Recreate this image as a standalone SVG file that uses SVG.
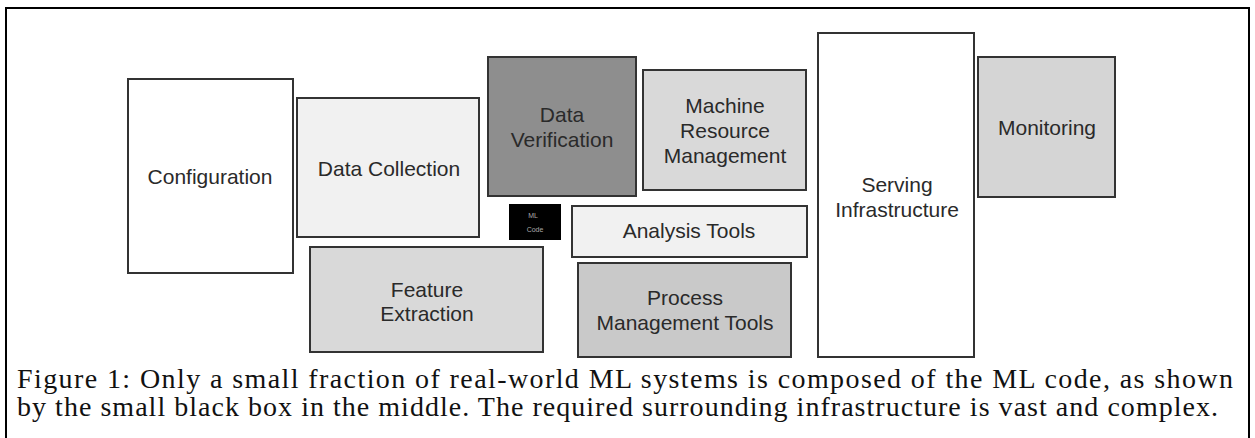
<svg xmlns="http://www.w3.org/2000/svg" width="1255" height="438" viewBox="0 0 1255 438">
<style>
.box{stroke:#333;stroke-width:2}
.lbl{font-family:"Liberation Sans",Arial,sans-serif;font-size:21px;fill:#2a2a2a;text-anchor:middle}
.cap{font-family:"Liberation Serif","Times New Roman",serif;font-size:28px;fill:#111}
</style>
<rect x="0" y="0" width="1255" height="438" fill="#fff"/>
<rect x="6" y="8" width="1243" height="450" fill="none" stroke="#000" stroke-width="2"/>
<g id="configuration"><rect class="box" x="128" y="79" width="165" height="194" fill="#fff"/><text class="lbl" x="210" y="184">Configuration</text></g>
<g id="data-collection"><rect class="box" x="297" y="98" width="182" height="139" fill="#f1f1f1"/><text class="lbl" x="389" y="176">Data Collection</text></g>
<g id="feature-extraction"><rect class="box" x="310" y="247" width="233" height="105" fill="#d9d9d9"/><text class="lbl" x="427" y="297">Feature</text><text class="lbl" x="427" y="321">Extraction</text></g>
<g id="data-verification"><rect class="box" x="488" y="57" width="148" height="139" fill="#8e8e8e"/><text class="lbl" x="562" y="122">Data</text><text class="lbl" x="562" y="147">Verification</text></g>
<g id="machine-resource-management"><rect class="box" x="643" y="70" width="163" height="120" fill="#d9d9d9"/><text class="lbl" x="725" y="113">Machine</text><text class="lbl" x="725" y="138">Resource</text><text class="lbl" x="725" y="163">Management</text></g>
<g id="ml-code"><rect x="509" y="204" width="52" height="36" fill="#000"/><text x="533" y="218" font-family="Liberation Sans,Arial,sans-serif" font-size="7" fill="#aaa" text-anchor="middle">ML</text><text x="535" y="232" font-family="Liberation Sans,Arial,sans-serif" font-size="7" fill="#aaa" text-anchor="middle">Code</text></g>
<g id="analysis-tools"><rect class="box" x="572" y="206" width="235" height="51" fill="#f1f1f1"/><text class="lbl" x="689" y="238">Analysis Tools</text></g>
<g id="process-management-tools"><rect class="box" x="578" y="263" width="213" height="94" fill="#c9c9c9"/><text class="lbl" x="685" y="305">Process</text><text class="lbl" x="685" y="330">Management Tools</text></g>
<g id="serving-infrastructure"><rect class="box" x="818" y="33" width="156" height="324" fill="#fff"/><text class="lbl" x="897" y="192">Serving</text><text class="lbl" x="897" y="217">Infrastructure</text></g>
<g id="monitoring"><rect class="box" x="978" y="57" width="137" height="140" fill="#d5d5d5"/><text class="lbl" x="1047" y="135">Monitoring</text></g>
<g id="connectors"></g>
<text class="cap" x="17" y="388" textLength="1216" lengthAdjust="spacing">Figure 1: Only a small fraction of real-world ML systems is composed of the ML code, as shown</text>
<text class="cap" x="17" y="416" textLength="1201" lengthAdjust="spacing">by the small black box in the middle. The required surrounding infrastructure is vast and complex.</text>
</svg>
